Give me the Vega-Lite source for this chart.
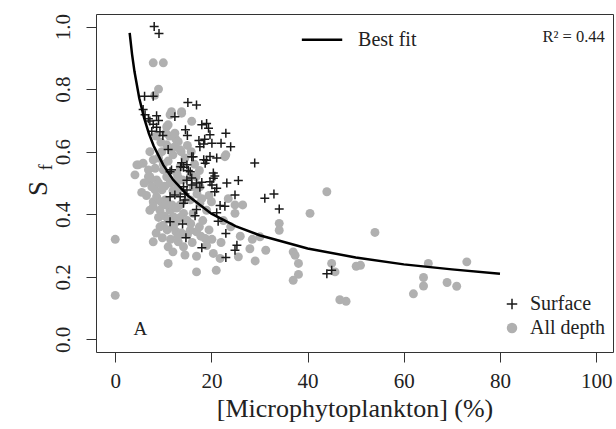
{
  "$schema": "https://vega.github.io/schema/vega-lite/v6.json",
  "width": 517,
  "height": 338,
  "autosize": {"type": "none"},
  "padding": {"left": 96, "top": 14, "right": 3, "bottom": 77},
  "background": "white",
  "config": {
    "view": {"stroke": "#333333", "strokeWidth": 1},
    "font": "Liberation Serif",
    "axis": {"grid": false, "domain": false, "tickColor": "#333333", "tickSize": 10, "labelFont": "Liberation Serif", "titleFont": "Liberation Serif", "labelFontSize": 21, "labelColor": "#222222", "titleColor": "#222222", "titleFontWeight": "normal"}
  },
  "datasets": {
    "pts": [
      {"x": 7.9, "y": 0.884, "series": "All depth"}, {"x": 10.0, "y": 0.884, "series": "All depth"}, {"x": 9.0, "y": 0.80, "series": "All depth"}, {"x": 8.2, "y": 0.78, "series": "All depth"},
      {"x": 11.7, "y": 0.728, "series": "All depth"}, {"x": 13.8, "y": 0.728, "series": "All depth"}, {"x": 15.9, "y": 0.697, "series": "All depth"}, {"x": 10.7, "y": 0.68, "series": "All depth"},
      {"x": 11.3, "y": 0.65, "series": "All depth"}, {"x": 12.6, "y": 0.64, "series": "All depth"}, {"x": 15.0, "y": 0.62, "series": "All depth"}, {"x": 15.8, "y": 0.60, "series": "All depth"},
      {"x": 13.7, "y": 0.60, "series": "All depth"}, {"x": 23.0, "y": 0.59, "series": "All depth"}, {"x": 22.8, "y": 0.584, "series": "All depth"}, {"x": 4.5, "y": 0.558, "series": "All depth"},
      {"x": 5.8, "y": 0.563, "series": "All depth"}, {"x": 4.1, "y": 0.526, "series": "All depth"}, {"x": 6.9, "y": 0.52, "series": "All depth"}, {"x": 7.2, "y": 0.51, "series": "All depth"},
      {"x": 8.3, "y": 0.478, "series": "All depth"}, {"x": 7.9, "y": 0.44, "series": "All depth"}, {"x": 7.2, "y": 0.413, "series": "All depth"}, {"x": 0.0, "y": 0.32, "series": "All depth"},
      {"x": 0.0, "y": 0.141, "series": "All depth"}, {"x": 7.9, "y": 0.312, "series": "All depth"}, {"x": 11.0, "y": 0.296, "series": "All depth"}, {"x": 13.1, "y": 0.312, "series": "All depth"},
      {"x": 14.2, "y": 0.296, "series": "All depth"}, {"x": 11.0, "y": 0.243, "series": "All depth"}, {"x": 16.9, "y": 0.216, "series": "All depth"}, {"x": 21.0, "y": 0.221, "series": "All depth"},
      {"x": 16.9, "y": 0.266, "series": "All depth"}, {"x": 20.4, "y": 0.275, "series": "All depth"}, {"x": 21.8, "y": 0.259, "series": "All depth"}, {"x": 25.6, "y": 0.264, "series": "All depth"},
      {"x": 28.0, "y": 0.29, "series": "All depth"}, {"x": 29.1, "y": 0.251, "series": "All depth"}, {"x": 31.3, "y": 0.285, "series": "All depth"}, {"x": 30.1, "y": 0.328, "series": "All depth"},
      {"x": 24.9, "y": 0.403, "series": "All depth"}, {"x": 10.0, "y": 0.365, "series": "All depth"}, {"x": 12.1, "y": 0.36, "series": "All depth"}, {"x": 18.7, "y": 0.323, "series": "All depth"},
      {"x": 20.1, "y": 0.32, "series": "All depth"}, {"x": 15.6, "y": 0.349, "series": "All depth"}, {"x": 16.9, "y": 0.344, "series": "All depth"}, {"x": 34.1, "y": 0.371, "series": "All depth"},
      {"x": 34.1, "y": 0.349, "series": "All depth"}, {"x": 44.0, "y": 0.472, "series": "All depth"}, {"x": 40.5, "y": 0.403, "series": "All depth"}, {"x": 54.0, "y": 0.342, "series": "All depth"},
      {"x": 37.0, "y": 0.28, "series": "All depth"}, {"x": 37.4, "y": 0.269, "series": "All depth"}, {"x": 38.1, "y": 0.243, "series": "All depth"}, {"x": 38.1, "y": 0.208, "series": "All depth"},
      {"x": 37.0, "y": 0.189, "series": "All depth"}, {"x": 45.0, "y": 0.243, "series": "All depth"}, {"x": 45.7, "y": 0.216, "series": "All depth"}, {"x": 46.7, "y": 0.127, "series": "All depth"},
      {"x": 48.0, "y": 0.122, "series": "All depth"}, {"x": 50.1, "y": 0.234, "series": "All depth"}, {"x": 51.0, "y": 0.237, "series": "All depth"}, {"x": 65.1, "y": 0.243, "series": "All depth"},
      {"x": 64.1, "y": 0.198, "series": "All depth"}, {"x": 64.1, "y": 0.171, "series": "All depth"}, {"x": 62.0, "y": 0.146, "series": "All depth"}, {"x": 69.0, "y": 0.182, "series": "All depth"},
      {"x": 71.0, "y": 0.17, "series": "All depth"}, {"x": 73.1, "y": 0.248, "series": "All depth"},
      {"x": 11.4, "y": 0.718, "series": "All depth"}, {"x": 13.8, "y": 0.723, "series": "All depth"}, {"x": 11.0, "y": 0.686, "series": "All depth"}, {"x": 12.4, "y": 0.659, "series": "All depth"},
      {"x": 13.1, "y": 0.632, "series": "All depth"}, {"x": 10.7, "y": 0.622, "series": "All depth"}, {"x": 9.7, "y": 0.6, "series": "All depth"}, {"x": 11.7, "y": 0.611, "series": "All depth"},
      {"x": 13.5, "y": 0.606, "series": "All depth"}, {"x": 7.2, "y": 0.6, "series": "All depth"}, {"x": 7.9, "y": 0.574, "series": "All depth"}, {"x": 4.8, "y": 0.558, "series": "All depth"},
      {"x": 6.9, "y": 0.542, "series": "All depth"}, {"x": 8.3, "y": 0.547, "series": "All depth"}, {"x": 7.2, "y": 0.52, "series": "All depth"}, {"x": 8.6, "y": 0.51, "series": "All depth"},
      {"x": 7.6, "y": 0.488, "series": "All depth"}, {"x": 9.7, "y": 0.478, "series": "All depth"}, {"x": 8.6, "y": 0.456, "series": "All depth"}, {"x": 7.9, "y": 0.424, "series": "All depth"},
      {"x": 10.4, "y": 0.446, "series": "All depth"}, {"x": 9.3, "y": 0.413, "series": "All depth"}, {"x": 11.4, "y": 0.413, "series": "All depth"}, {"x": 12.1, "y": 0.392, "series": "All depth"},
      {"x": 14.2, "y": 0.403, "series": "All depth"}, {"x": 12.4, "y": 0.616, "series": "All depth"}, {"x": 13.5, "y": 0.552, "series": "All depth"}, {"x": 12.8, "y": 0.531, "series": "All depth"},
      {"x": 11.4, "y": 0.5, "series": "All depth"}, {"x": 13.1, "y": 0.478, "series": "All depth"}, {"x": 10.0, "y": 0.542, "series": "All depth"}, {"x": 10.7, "y": 0.52, "series": "All depth"},
      {"x": 15.6, "y": 0.52, "series": "All depth"}, {"x": 16.2, "y": 0.488, "series": "All depth"}, {"x": 17.6, "y": 0.488, "series": "All depth"}, {"x": 15.6, "y": 0.446, "series": "All depth"},
      {"x": 17.6, "y": 0.435, "series": "All depth"}, {"x": 16.2, "y": 0.403, "series": "All depth"}, {"x": 19.0, "y": 0.413, "series": "All depth"}, {"x": 24.9, "y": 0.43, "series": "All depth"},
      {"x": 9.5, "y": 0.44, "series": "All depth"}, {"x": 10.5, "y": 0.43, "series": "All depth"}, {"x": 11.8, "y": 0.43, "series": "All depth"}, {"x": 12.8, "y": 0.42, "series": "All depth"},
      {"x": 13.5, "y": 0.43, "series": "All depth"}, {"x": 9.0, "y": 0.39, "series": "All depth"}, {"x": 10.2, "y": 0.395, "series": "All depth"}, {"x": 11.0, "y": 0.385, "series": "All depth"},
      {"x": 12.7, "y": 0.375, "series": "All depth"}, {"x": 13.5, "y": 0.39, "series": "All depth"}, {"x": 15.0, "y": 0.38, "series": "All depth"}, {"x": 15.7, "y": 0.37, "series": "All depth"},
      {"x": 9.3, "y": 0.36, "series": "All depth"}, {"x": 10.8, "y": 0.35, "series": "All depth"}, {"x": 12.6, "y": 0.345, "series": "All depth"}, {"x": 13.8, "y": 0.34, "series": "All depth"},
      {"x": 15.0, "y": 0.335, "series": "All depth"}, {"x": 17.5, "y": 0.36, "series": "All depth"}, {"x": 18.2, "y": 0.38, "series": "All depth"}, {"x": 19.5, "y": 0.35, "series": "All depth"},
      {"x": 8.5, "y": 0.34, "series": "All depth"}, {"x": 9.8, "y": 0.325, "series": "All depth"}, {"x": 11.5, "y": 0.32, "series": "All depth"}, {"x": 13.0, "y": 0.33, "series": "All depth"},
      {"x": 16.0, "y": 0.31, "series": "All depth"}, {"x": 17.8, "y": 0.33, "series": "All depth"}, {"x": 19.0, "y": 0.3, "series": "All depth"}, {"x": 22.0, "y": 0.31, "series": "All depth"},
      {"x": 12.0, "y": 0.28, "series": "All depth"}, {"x": 14.5, "y": 0.27, "series": "All depth"}, {"x": 9.0, "y": 0.5, "series": "All depth"}, {"x": 10.3, "y": 0.49, "series": "All depth"},
      {"x": 12.0, "y": 0.475, "series": "All depth"}, {"x": 12.7, "y": 0.5, "series": "All depth"}, {"x": 13.0, "y": 0.52, "series": "All depth"}, {"x": 14.0, "y": 0.51, "series": "All depth"},
      {"x": 16.8, "y": 0.52, "series": "All depth"}, {"x": 17.0, "y": 0.465, "series": "All depth"}, {"x": 18.0, "y": 0.45, "series": "All depth"}, {"x": 19.5, "y": 0.46, "series": "All depth"},
      {"x": 20.0, "y": 0.44, "series": "All depth"}, {"x": 23.5, "y": 0.45, "series": "All depth"}, {"x": 26.5, "y": 0.43, "series": "All depth"}, {"x": 22.5, "y": 0.38, "series": "All depth"},
      {"x": 24.0, "y": 0.36, "series": "All depth"}, {"x": 26.0, "y": 0.33, "series": "All depth"}, {"x": 28.5, "y": 0.32, "series": "All depth"}, {"x": 6.5, "y": 0.46, "series": "All depth"},
      {"x": 6.0, "y": 0.5, "series": "All depth"}, {"x": 5.5, "y": 0.47, "series": "All depth"}, {"x": 9.0, "y": 0.58, "series": "All depth"}, {"x": 10.0, "y": 0.56, "series": "All depth"},
      {"x": 11.0, "y": 0.57, "series": "All depth"}, {"x": 12.0, "y": 0.59, "series": "All depth"}, {"x": 14.5, "y": 0.58, "series": "All depth"}, {"x": 16.5, "y": 0.56, "series": "All depth"},
      {"x": 17.5, "y": 0.54, "series": "All depth"}, {"x": 9.5, "y": 0.63, "series": "All depth"}, {"x": 8.5, "y": 0.65, "series": "All depth"}, {"x": 10.5, "y": 0.66, "series": "All depth"},
      {"x": 8.1, "y": 1.0, "series": "Surface"}, {"x": 9.1, "y": 0.978, "series": "Surface"}, {"x": 6.1, "y": 0.777, "series": "Surface"}, {"x": 7.9, "y": 0.777, "series": "Surface"},
      {"x": 15.1, "y": 0.757, "series": "Surface"}, {"x": 16.9, "y": 0.749, "series": "Surface"}, {"x": 5.8, "y": 0.735, "series": "Surface"}, {"x": 6.2, "y": 0.718, "series": "Surface"},
      {"x": 8.6, "y": 0.715, "series": "Surface"}, {"x": 9.0, "y": 0.700, "series": "Surface"}, {"x": 12.4, "y": 0.712, "series": "Surface"}, {"x": 7.2, "y": 0.698, "series": "Surface"},
      {"x": 6.9, "y": 0.705, "series": "Surface"}, {"x": 7.9, "y": 0.688, "series": "Surface"}, {"x": 8.6, "y": 0.678, "series": "Surface"}, {"x": 7.6, "y": 0.665, "series": "Surface"},
      {"x": 9.3, "y": 0.664, "series": "Surface"}, {"x": 9.9, "y": 0.652, "series": "Surface"}, {"x": 18.0, "y": 0.686, "series": "Surface"}, {"x": 19.0, "y": 0.690, "series": "Surface"},
      {"x": 19.4, "y": 0.675, "series": "Surface"}, {"x": 14.6, "y": 0.670, "series": "Surface"}, {"x": 15.0, "y": 0.652, "series": "Surface"}, {"x": 23.0, "y": 0.659, "series": "Surface"},
      {"x": 19.7, "y": 0.654, "series": "Surface"}, {"x": 17.4, "y": 0.636, "series": "Surface"}, {"x": 18.6, "y": 0.640, "series": "Surface"}, {"x": 17.6, "y": 0.616, "series": "Surface"},
      {"x": 18.4, "y": 0.625, "series": "Surface"}, {"x": 20.1, "y": 0.627, "series": "Surface"}, {"x": 22.0, "y": 0.627, "series": "Surface"}, {"x": 24.0, "y": 0.616, "series": "Surface"},
      {"x": 11.0, "y": 0.607, "series": "Surface"}, {"x": 15.9, "y": 0.584, "series": "Surface"}, {"x": 21.1, "y": 0.580, "series": "Surface"}, {"x": 19.7, "y": 0.585, "series": "Surface"},
      {"x": 19.0, "y": 0.573, "series": "Surface"}, {"x": 18.4, "y": 0.574, "series": "Surface"}, {"x": 18.7, "y": 0.563, "series": "Surface"}, {"x": 29.0, "y": 0.564, "series": "Surface"},
      {"x": 13.8, "y": 0.565, "series": "Surface"}, {"x": 14.9, "y": 0.558, "series": "Surface"}, {"x": 14.2, "y": 0.550, "series": "Surface"}, {"x": 15.2, "y": 0.540, "series": "Surface"},
      {"x": 13.6, "y": 0.552, "series": "Surface"}, {"x": 20.4, "y": 0.532, "series": "Surface"}, {"x": 20.7, "y": 0.522, "series": "Surface"}, {"x": 11.4, "y": 0.536, "series": "Surface"},
      {"x": 11.7, "y": 0.542, "series": "Surface"}, {"x": 15.6, "y": 0.536, "series": "Surface"}, {"x": 15.9, "y": 0.516, "series": "Surface"}, {"x": 14.9, "y": 0.509, "series": "Surface"},
      {"x": 20.4, "y": 0.515, "series": "Surface"}, {"x": 19.7, "y": 0.504, "series": "Surface"}, {"x": 20.1, "y": 0.494, "series": "Surface"}, {"x": 23.2, "y": 0.500, "series": "Surface"},
      {"x": 25.6, "y": 0.508, "series": "Surface"}, {"x": 18.0, "y": 0.502, "series": "Surface"}, {"x": 17.6, "y": 0.486, "series": "Surface"}, {"x": 16.9, "y": 0.500, "series": "Surface"},
      {"x": 15.9, "y": 0.494, "series": "Surface"}, {"x": 21.1, "y": 0.483, "series": "Surface"}, {"x": 20.7, "y": 0.472, "series": "Surface"}, {"x": 14.2, "y": 0.488, "series": "Surface"},
      {"x": 14.9, "y": 0.478, "series": "Surface"}, {"x": 14.5, "y": 0.465, "series": "Surface"}, {"x": 24.9, "y": 0.462, "series": "Surface"}, {"x": 11.4, "y": 0.456, "series": "Surface"},
      {"x": 12.4, "y": 0.462, "series": "Surface"}, {"x": 13.5, "y": 0.456, "series": "Surface"}, {"x": 14.5, "y": 0.446, "series": "Surface"}, {"x": 14.2, "y": 0.435, "series": "Surface"},
      {"x": 31.1, "y": 0.451, "series": "Surface"}, {"x": 33.0, "y": 0.465, "series": "Surface"}, {"x": 34.1, "y": 0.417, "series": "Surface"}, {"x": 21.8, "y": 0.428, "series": "Surface"},
      {"x": 22.8, "y": 0.426, "series": "Surface"}, {"x": 16.9, "y": 0.415, "series": "Surface"}, {"x": 21.1, "y": 0.405, "series": "Surface"}, {"x": 21.4, "y": 0.378, "series": "Surface"},
      {"x": 16.6, "y": 0.395, "series": "Surface"}, {"x": 11.4, "y": 0.376, "series": "Surface"}, {"x": 14.0, "y": 0.369, "series": "Surface"}, {"x": 14.7, "y": 0.325, "series": "Surface"},
      {"x": 23.0, "y": 0.339, "series": "Surface"}, {"x": 18.0, "y": 0.293, "series": "Surface"}, {"x": 25.3, "y": 0.301, "series": "Surface"}, {"x": 24.9, "y": 0.285, "series": "Surface"},
      {"x": 23.0, "y": 0.262, "series": "Surface"}, {"x": 44.0, "y": 0.210, "series": "Surface"}, {"x": 45.0, "y": 0.221, "series": "Surface"}, {"x": 16.2, "y": 0.584, "series": "Surface"}
    ],
    "fit": [
      {"x": 3, "y": 0.980}, {"x": 3.5, "y": 0.911}, {"x": 4, "y": 0.856}, {"x": 5, "y": 0.771}, {"x": 6, "y": 0.708},
      {"x": 7, "y": 0.658}, {"x": 8, "y": 0.618}, {"x": 10, "y": 0.557}, {"x": 12, "y": 0.511}, {"x": 15, "y": 0.461},
      {"x": 20, "y": 0.402}, {"x": 25, "y": 0.362}, {"x": 30, "y": 0.333}, {"x": 40, "y": 0.291}, {"x": 50, "y": 0.262},
      {"x": 60, "y": 0.240}, {"x": 70, "y": 0.224}, {"x": 80, "y": 0.210}
    ]
  },
  "layer": [
    {
      "data": {"name": "pts"},
      "mark": {"type": "point", "filled": false, "strokeWidth": 1.5, "opacity": 1, "size": 80},
      "encoding": {
        "x": {"field": "x", "type": "quantitative", "scale": {"domain": [-4, 103.5], "nice": false, "zero": false}, "axis": {"values": [0, 20, 40, 60, 80, 100], "title": "[Microphytoplankton] (%)", "titleFontSize": 26, "labelPadding": 8, "titlePadding": 4}},
        "y": {"field": "y", "type": "quantitative", "scale": {"domain": [-0.04, 1.04], "nice": false, "zero": false}, "axis": {"values": [0, 0.2, 0.4, 0.6, 0.8, 1.0], "format": ".1f", "labelAngle": 270, "labelAlign": "center", "labelBaseline": "bottom", "labelPadding": 13, "title": "S", "titleFontSize": 27, "titleAngle": 270, "titleAlign": "center", "titleBaseline": "alphabetic", "titleX": -50, "titleY": 174}},
        "fill": {"field": "series", "type": "nominal", "scale": {"domain": ["Surface", "All depth"], "range": ["rgba(0,0,0,0)", "#b0b0b0"]}, "legend": {"title": null, "orient": "none", "legendX": 406, "legendY": 280, "labelFontSize": 20, "labelFont": "Liberation Serif", "labelColor": "#222222", "symbolSize": 110, "symbolStrokeWidth": 1.5, "labelOffset": 8, "rowPadding": 4, "padding": 0}},
        "stroke": {"field": "series", "type": "nominal", "scale": {"domain": ["Surface", "All depth"], "range": ["#1a1a1a", "rgba(0,0,0,0)"]}, "legend": {"title": null, "orient": "none", "legendX": 406, "legendY": 280, "labelFontSize": 20, "labelFont": "Liberation Serif", "labelColor": "#222222", "symbolSize": 110, "symbolStrokeWidth": 1.5, "labelOffset": 8, "rowPadding": 4, "padding": 0}},
        "shape": {"field": "series", "type": "nominal", "scale": {"domain": ["Surface", "All depth"], "range": ["M-1,0L1,0M0,-1L0,1", "circle"]}, "legend": {"title": null, "orient": "none", "legendX": 406, "legendY": 280, "labelFontSize": 20, "labelFont": "Liberation Serif", "labelColor": "#222222", "symbolSize": 110, "symbolStrokeWidth": 1.5, "labelOffset": 8, "rowPadding": 4, "padding": 0}}
      }
    },
    {
      "data": {"name": "fit"},
      "mark": {"type": "line", "color": "#000000", "strokeWidth": 2.5},
      "encoding": {"x": {"field": "x", "type": "quantitative"}, "y": {"field": "y", "type": "quantitative"}}
    },
    {
      "data": {"values": [{"x": 38.8, "x2": 47.2, "y": 0.958}]},
      "mark": {"type": "rule", "color": "#000000", "strokeWidth": 2.5},
      "encoding": {"x": {"field": "x", "type": "quantitative"}, "x2": {"field": "x2"}, "y": {"field": "y", "type": "quantitative"}}
    },
    {
      "data": {"values": [{"x": 50.5, "y": 0.958, "label": "Best fit"}]},
      "mark": {"type": "text", "align": "left", "baseline": "middle", "fontSize": 20, "font": "Liberation Serif", "color": "#222222"},
      "encoding": {"x": {"field": "x", "type": "quantitative"}, "y": {"field": "y", "type": "quantitative"}, "text": {"field": "label"}}
    },
    {
      "data": {"values": [{"x": 101.8, "y": 0.966, "label": "R² = 0.44"}]},
      "mark": {"type": "text", "align": "right", "baseline": "middle", "fontSize": 16.5, "font": "Liberation Serif", "color": "#222222"},
      "encoding": {"x": {"field": "x", "type": "quantitative"}, "y": {"field": "y", "type": "quantitative"}, "text": {"field": "label"}}
    },
    {
      "data": {"values": [{"x": 5.2, "y": 0.032, "label": "A"}]},
      "mark": {"type": "text", "align": "center", "baseline": "middle", "fontSize": 19, "font": "Liberation Serif", "color": "#222222"},
      "encoding": {"x": {"field": "x", "type": "quantitative"}, "y": {"field": "y", "type": "quantitative"}, "text": {"field": "label"}}
    },
    {
      "data": {"values": [{"x": -13.1, "y": 0.55, "label": "f"}]},
      "mark": {"type": "text", "align": "center", "baseline": "alphabetic", "angle": 270, "fontSize": 18, "font": "Liberation Serif", "color": "#222222"},
      "encoding": {"x": {"field": "x", "type": "quantitative"}, "y": {"field": "y", "type": "quantitative"}, "text": {"field": "label"}}
    }
  ]
}
